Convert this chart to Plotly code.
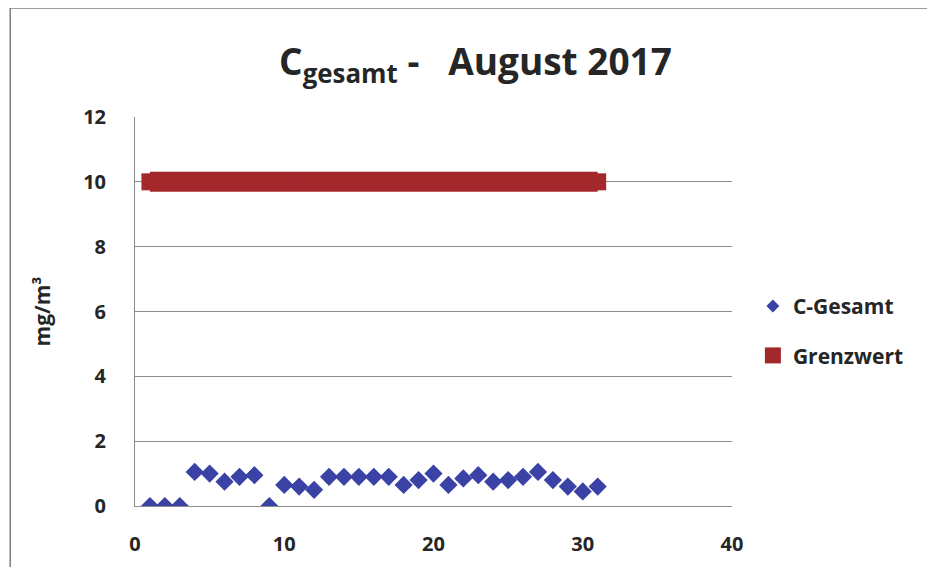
import plotly.graph_objects as go

days = list(range(1, 32))
c_gesamt = [0, 0, 0, 1.05, 1.0, 0.75, 0.9, 0.95, 0, 0.65, 0.6, 0.5, 0.9, 0.9, 0.9,
            0.9, 0.9, 0.65, 0.8, 1.0, 0.65, 0.85, 0.95, 0.75, 0.8, 0.9, 1.05, 0.8,
            0.6, 0.45, 0.6]
grenzwert = [10] * 31

blue = "#3A42A6"
red = "#A3282C"
txt = "#262626"

fig = go.Figure()
fig.add_trace(go.Scatter(x=days, y=grenzwert, mode="lines+markers", name="Grenzwert",
                         line=dict(color=red, width=20),
                         marker=dict(symbol="square", size=17, color=red),
                         showlegend=False))
fig.add_trace(go.Scatter(x=days, y=c_gesamt, mode="markers", name="C-Gesamt",
                         marker=dict(symbol="diamond", size=14, color=blue),
                         showlegend=False))
fig.add_trace(go.Scatter(x=[None], y=[None], mode="markers", name="C-Gesamt",
                         marker=dict(symbol="diamond", size=10, color=blue),
                         legendgroup="a", legendrank=1))
fig.add_trace(go.Scatter(x=[None], y=[None], mode="markers", name="Grenzwert",
                         marker=dict(symbol="square", size=16, color=red),
                         legendgroup="b", legendrank=2))

fig.update_layout(
    width=935, height=567,
    margin=dict(l=127, r=211, t=109, b=69),
    paper_bgcolor="white", plot_bgcolor="white",
    font=dict(family="Open Sans", color=txt),
    title=dict(text="<b>C<sub>gesamt</sub> -   August 2017</b>",
               x=0.5, xanchor="center", y=0.905, yanchor="middle",
               font=dict(size=37, color=txt)),
    legend=dict(x=1.035, y=0.45, xanchor="left", yanchor="middle",
                font=dict(size=21, color=txt, weight="bold"), tracegroupgap=19,
                traceorder="grouped", itemwidth=30, bgcolor="rgba(0,0,0,0)"),
    xaxis=dict(range=[0, 40], tickvals=[0, 10, 20, 30, 40], showgrid=False,
               showline=True, linecolor="#8c8c8c", linewidth=1, zeroline=False,
               ticks="", tickfont=dict(size=20, color=txt, weight="bold"),
               ticklabelstandoff=20),
    yaxis=dict(range=[0, 12], tickvals=[0, 2, 4, 6, 8, 10, 12], showgrid=True,
               gridcolor="#8c8c8c", gridwidth=1,
               showline=True, linecolor="#8c8c8c", linewidth=1, zeroline=False,
               ticks="", tickfont=dict(size=20, color=txt, weight="bold"),
               ticklabelstandoff=24,
               title=dict(text="<b>mg/m³</b>", font=dict(size=21, color=txt), standoff=26)),
    shapes=[dict(type="rect", xref="paper", yref="paper",
                 x0=-0.209, x1=1.328, y0=-0.2, y1=1.28,
                 line=dict(color="#7f7f7f", width=1.5), fillcolor="rgba(0,0,0,0)",
                 layer="below")],
)

fig.write_html("out.html")
